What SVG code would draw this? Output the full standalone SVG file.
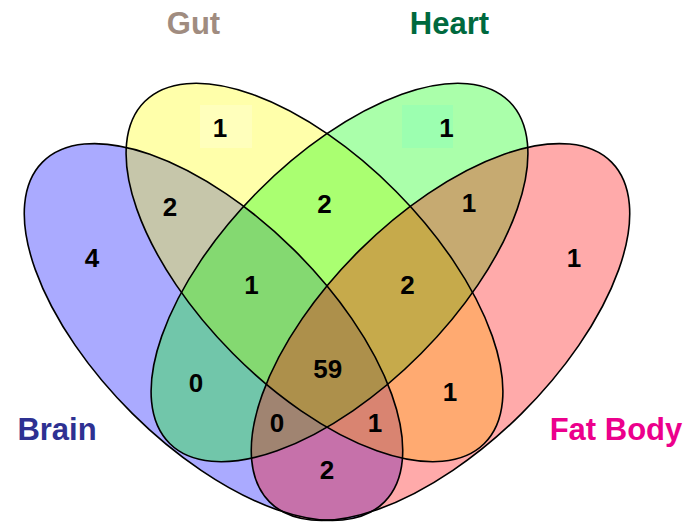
<svg xmlns="http://www.w3.org/2000/svg" xmlns:xlink="http://www.w3.org/1999/xlink" width="692" height="523" viewBox="0 0 692 523">
<style>
.fill{stroke:none;fill-opacity:0.333}
.outline{fill:none;stroke:#000;stroke-width:1.6}
.lbl{font-family:"Liberation Sans",Arial,sans-serif;font-weight:bold;font-size:31px;text-anchor:middle}
.num{font-family:"Liberation Sans",Arial,sans-serif;font-weight:bold;font-size:26px;text-anchor:middle;fill:#000}
</style>
<defs>
<ellipse id="e-brain" cx="0" cy="0" rx="241" ry="115" transform="translate(213.5 332) rotate(44.8)"/>
<ellipse id="e-gut" cx="0" cy="0" rx="241" ry="115" transform="translate(314.5 272.5) rotate(45.2)"/>
<ellipse id="e-heart" cx="0" cy="0" rx="241" ry="115" transform="translate(339.5 272.5) rotate(-45.2)"/>
<ellipse id="e-fat" cx="0" cy="0" rx="241" ry="115" transform="translate(440.5 332) rotate(-44.8)"/>
</defs>
<rect x="0" y="0" width="692" height="523" fill="#fff"/>
<g id="brain">
<use xlink:href="#e-brain" href="#e-brain" class="fill" fill="#0000ff"/>
<text class="lbl" x="57" y="440" fill="#2E3192">Brain</text>
</g>
<g id="gut">
<use xlink:href="#e-gut" href="#e-gut" class="fill" fill="#ffff00"/>
<text class="lbl" x="193.5" y="33.5" fill="#A08C80">Gut</text>
</g>
<g id="heart">
<use xlink:href="#e-heart" href="#e-heart" class="fill" fill="#00ff00"/>
<text class="lbl" x="449.5" y="33.5" fill="#00693E">Heart</text>
</g>
<g id="fatbody">
<use xlink:href="#e-fat" href="#e-fat" class="fill" fill="#ff0000"/>
<text class="lbl" x="616" y="440" fill="#EC008C">Fat Body</text>
</g>
<g id="label-bg">
<rect x="200" y="105" width="52" height="43" fill="#FFFFBC"/>
<rect x="402" y="105" width="51" height="43" fill="#9CFFB0"/>
</g>
<g id="outlines">
<use xlink:href="#e-brain" href="#e-brain" class="outline"/>
<use xlink:href="#e-gut" href="#e-gut" class="outline"/>
<use xlink:href="#e-heart" href="#e-heart" class="outline"/>
<use xlink:href="#e-fat" href="#e-fat" class="outline"/>
</g>
<g id="counts">
<text class="num" x="220" y="137.3">1</text>
<text class="num" x="446.5" y="137.3">1</text>
<text class="num" x="170" y="216">2</text>
<text class="num" x="324.5" y="212.6">2</text>
<text class="num" x="469" y="212.3">1</text>
<text class="num" x="92" y="267.3">4</text>
<text class="num" x="574" y="267.3">1</text>
<text class="num" x="251.5" y="294.3">1</text>
<text class="num" x="407.5" y="294.3">2</text>
<text class="num" x="196" y="392">0</text>
<text class="num" x="327.8" y="377.8">59</text>
<text class="num" x="450" y="401">1</text>
<text class="num" x="277" y="432.3">0</text>
<text class="num" x="375" y="432.3">1</text>
<text class="num" x="327" y="479.3">2</text>
</g>
</svg>
